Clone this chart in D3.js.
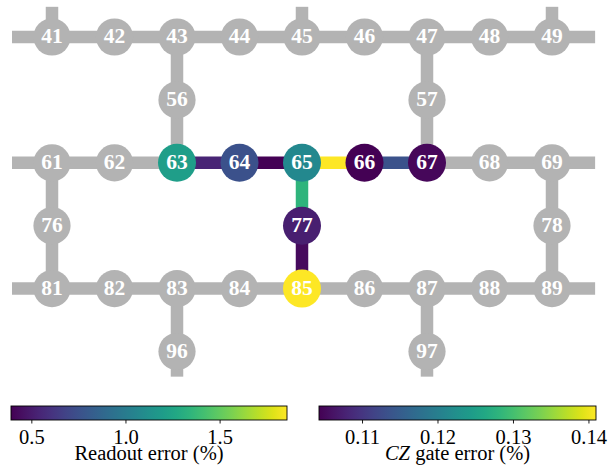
<!DOCTYPE html>
<html>
<head>
<meta charset="utf-8">
<script src="https://cdn.jsdelivr.net/npm/d3@7"></script>
<style>
  html, body { margin: 0; padding: 0; background: #fff; }
  svg { display: block; }
  svg text { font-family: "Liberation Serif", "Times New Roman", serif; }
</style>
</head>
<body>
<svg id="chart" width="610" height="473"></svg>
<script>
// Qubit ids with their grid position (column, row)
const qubitIds  = [41, 42, 43, 44, 45, 46, 47, 48, 49, 56, 57, 61, 62, 63, 64, 65, 66, 67, 68, 69, 76, 77, 78, 81, 82, 83, 84, 85, 86, 87, 88, 89, 96, 97];
const qubitCols = [0, 1, 2, 3, 4, 5, 6, 7, 8, 2, 6, 0, 1, 2, 3, 4, 5, 6, 7, 8, 0, 4, 8, 0, 1, 2, 3, 4, 5, 6, 7, 8, 2, 6];
const qubitRows = [0, 0, 0, 0, 0, 0, 0, 0, 0, 1, 1, 2, 2, 2, 2, 2, 2, 2, 2, 2, 3, 3, 3, 4, 4, 4, 4, 4, 4, 4, 4, 4, 5, 5];

// Couplers between qubits
const couplerA = [41, 42, 43, 44, 45, 46, 47, 48, 43, 56, 47, 57, 61, 62, 63, 64, 65, 66, 67, 68, 61, 76, 69, 78, 65, 77, 81, 82, 83, 84, 85, 86, 87, 88, 83, 87];
const couplerB = [42, 43, 44, 45, 46, 47, 48, 49, 56, 63, 57, 67, 62, 63, 64, 65, 66, 67, 68, 69, 76, 81, 78, 89, 77, 85, 82, 83, 84, 85, 86, 87, 88, 89, 96, 97];

// Couplers leaving the chip outline: qubit id and the far end in grid units
const stubQubit = [41, 45, 49, 41, 49, 61, 69, 81, 89, 96, 97];
const stubCol   = [0, 4, 8, -0.64, 8.69, -0.64, 8.69, -0.64, 8.69, 2, 6];
const stubRow   = [-0.48, -0.48, -0.48, 0, 0, 2, 2, 4, 4, 5.4, 5.4];

// Readout error (%) of the active qubits
const readoutQubits = [63, 64, 65, 66, 67, 77, 85];
const readoutError  = [1.21, 0.758, 1.075, 0.392, 0.418, 0.515, 1.858];

// CZ gate error (%) of the active couplers
const czA = [63, 64, 65, 66, 65, 77];
const czB = [64, 65, 66, 67, 77, 85];
const czError = [0.1080, 0.1043, 0.1410, 0.1135, 0.1282, 0.1053];

// Colorbar ticks
const readoutTicks = [0.5, 1.0, 1.5];
const czTicks = [0.11, 0.12, 0.13, 0.14];

const svg = d3.select("#chart");
const gray = "#b3b3b3";

const x = d3.scaleLinear().domain([0, 8]).range([52, 552]);
const y = d3.scaleLinear().domain([0, 5]).range([37, 351.5]);

const readoutColor = d3.scaleSequential(d3.interpolateViridis).domain(d3.extent(readoutError));
const czColor = d3.scaleSequential(d3.interpolateViridis).domain(d3.extent(czError));

const pos = new Map(qubitIds.map((id, i) => [id, { c: qubitCols[i], r: qubitRows[i] }]));
const readoutMap = new Map(readoutQubits.map((id, i) => [id, readoutError[i]]));
const czKey = (a, b) => Math.min(a, b) + "-" + Math.max(a, b);
const czMap = new Map(czA.map((a, i) => [czKey(a, czB[i]), czError[i]]));

const edgeWidth = 12.5;
const gEdges = svg.append("g");

// stubs leaving the chip
gEdges.selectAll("line.stub")
  .data(stubQubit.map((q, i) => ({ q, c: stubCol[i], r: stubRow[i] })))
  .join("line")
  .attr("class", "stub")
  .attr("x1", d => x(pos.get(d.q).c)).attr("y1", d => y(pos.get(d.q).r))
  .attr("x2", d => x(d.c)).attr("y2", d => y(d.r))
  .attr("stroke", gray).attr("stroke-width", edgeWidth);

// couplers
gEdges.selectAll("line.coupler")
  .data(couplerA.map((a, i) => ({ a, b: couplerB[i], v: czMap.get(czKey(a, couplerB[i])) })))
  .join("line")
  .attr("class", "coupler")
  .attr("x1", d => x(pos.get(d.a).c)).attr("y1", d => y(pos.get(d.a).r))
  .attr("x2", d => x(pos.get(d.b).c)).attr("y2", d => y(pos.get(d.b).r))
  .attr("stroke", d => d.v === undefined ? gray : czColor(d.v))
  .attr("stroke-width", edgeWidth);

// qubits
const gNodes = svg.append("g")
  .selectAll("g")
  .data(qubitIds.map((id, i) => ({ id, c: qubitCols[i], r: qubitRows[i], v: readoutMap.get(id) })))
  .join("g")
  .attr("transform", d => `translate(${x(d.c)},${y(d.r)})`);

gNodes.append("circle")
  .attr("r", d => d.v === undefined ? 18.6 : 19)
  .attr("fill", d => d.v === undefined ? gray : readoutColor(d.v));

gNodes.append("text")
  .attr("text-anchor", "middle")
  .attr("dy", "0.28em")
  .attr("fill", "#fff")
  .attr("font-weight", "bold")
  .attr("font-size", 21.5)
  .text(d => d.id);

// colorbars
const defs = svg.append("defs");
function colorbar(id, scale, x0, x1, ticks, fmt, label) {
  const y0 = 406, h = 14;
  const [lo, hi] = scale.domain();
  const grad = defs.append("linearGradient").attr("id", id).attr("x1", "0%").attr("x2", "100%");
  d3.range(0, 1.0001, 0.05).forEach(t => {
    grad.append("stop").attr("offset", (t * 100) + "%").attr("stop-color", d3.interpolateViridis(t));
  });
  const g = svg.append("g");
  g.append("rect").attr("x", x0).attr("y", y0).attr("width", x1 - x0).attr("height", h)
    .attr("fill", `url(#${id})`).attr("stroke", "#000").attr("stroke-width", 0.9);
  const s = d3.scaleLinear().domain([lo, hi]).range([x0, x1]);
  const axis = g.append("g").attr("transform", `translate(0,${y0 + h})`)
    .call(d3.axisBottom(s).tickValues(ticks).tickFormat(d3.format(fmt)).tickSize(3.5).tickPadding(6));
  axis.attr("font-family", null).attr("font-size", null);
  axis.select(".domain").remove();
  axis.selectAll(".tick line").attr("stroke", "#000").attr("stroke-width", 0.9);
  axis.selectAll(".tick text").attr("font-size", 20.5).attr("fill", "#000");
  const t = g.append("text").attr("x", (x0 + x1) / 2).attr("y", 459.5)
    .attr("text-anchor", "middle").attr("font-size", 20.5).attr("fill", "#000");
  label(t);
}

colorbar("gradReadout", readoutColor, 11, 287, readoutTicks, ".1f",
  t => t.text("Readout error (%)"));
colorbar("gradCz", czColor, 319, 596, czTicks, ".2f",
  t => { t.append("tspan").attr("font-style", "italic").text("CZ"); t.append("tspan").text(" gate error (%)"); });
</script>
</body>
</html>
